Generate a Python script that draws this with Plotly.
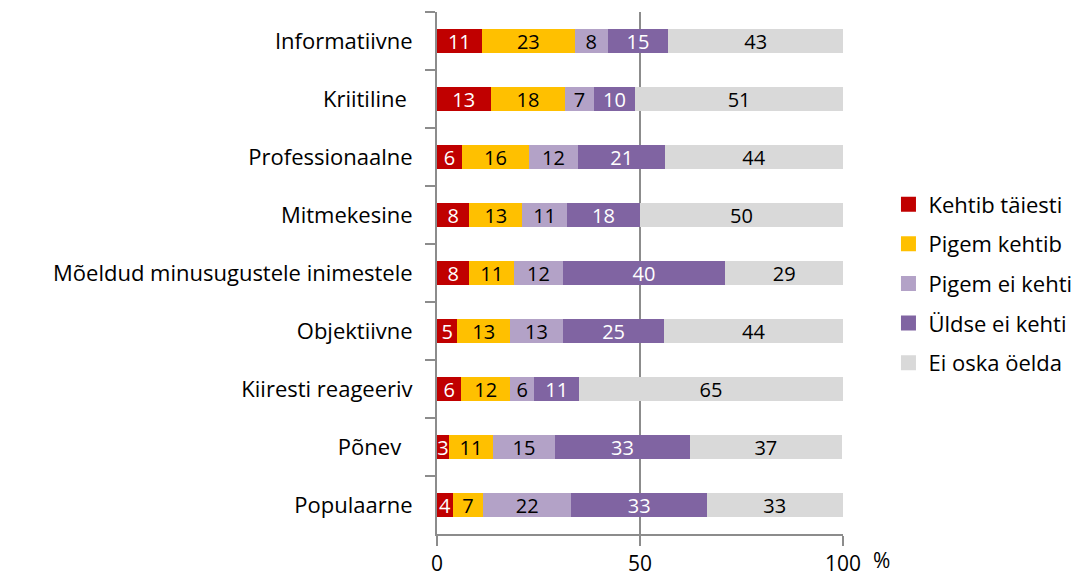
import plotly.graph_objects as go

# ------------------------------------------
# Data (segment lengths in %, labels show them rounded)
# ------------------------------------------

categories = [
    "Informatiivne",
    "Kriitiline\u00a0",
    "Professionaalne",
    "Mitmekesine",
    "Mõeldud minusugustele inimestele",
    "Objektiivne",
    "Kiiresti reageeriv",
    "Põnev\u00a0\u00a0",
    "Populaarne",
]

kehtib_taiesti = [11, 13.2, 6.2, 8, 8, 5, 6, 3.0, 3.9]
pigem_kehtib = [23, 18.4, 16.4, 13, 11, 13, 12, 10.7, 7.4]
pigem_ei_kehti = [8, 7.0, 12.2, 11, 12, 13, 6, 15.4, 21.8]
uldse_ei_kehti = [15, 10.2, 21.4, 18, 40, 25, 11, 33.2, 33.4]
ei_oska_oelda = [43, 51.2, 43.8, 50, 29, 44, 65, 37.4, 33.4]

series = [
    ("Kehtib täiesti", kehtib_taiesti, "#C00000", "white"),
    ("Pigem kehtib", pigem_kehtib, "#FFC000", "black"),
    ("Pigem ei kehti", pigem_ei_kehti, "#B3A2C7", "black"),
    ("Üldse ei kehti", uldse_ei_kehti, "#8064A2", "white"),
    ("Ei oska öelda", ei_oska_oelda, "#D9D9D9", "black"),
]

FONT = "Open Sans"

# the page body has an 8px margin, so the figure is drawn from (8, 8)
OFF = 8
W, H = 1090 - OFF, 575 - OFF
# plot area in window pixels
LEFT, RIGHT, TOP, BOTTOM = 437, 843, 12, 534

# ------------------------------------------
# Stacked bar chart
# ------------------------------------------

fig = go.Figure()

for name, values, color, text_color in series:
    fig.add_trace(
        go.Bar(
            name=name,
            x=values,
            y=categories,
            orientation="h",
            marker=dict(color=color, line=dict(width=0)),
            texttemplate="%{x:.0f}",
            textposition="inside",
            insidetextanchor="middle",
            textangle=0,
            textfont=dict(color=text_color, size=20, family=FONT),
            legendgroup=name,
            showlegend=False,
            hoverinfo="skip",
        )
    )

# square legend keys
for name, values, color, text_color in series:
    fig.add_trace(
        go.Scatter(
            name=name,
            x=[None],
            y=[None],
            mode="markers",
            marker=dict(symbol="square", size=15, color=color),
            legendgroup=name,
            showlegend=True,
        )
    )

fig.add_annotation(
    x=(892 - LEFT) / (RIGHT - LEFT),
    y=-(560 - BOTTOM) / (BOTTOM - TOP),
    xref="paper", yref="paper",
    yanchor="middle",
    text="%", showarrow=False,
    font=dict(size=21, family=FONT, color="black"),
)

fig.update_layout(
    width=W,
    height=H,
    barmode="stack",
    bargap=0.6,
    plot_bgcolor="white",
    paper_bgcolor="white",
    margin=dict(l=LEFT - OFF, r=1090 - RIGHT, t=TOP - OFF, b=575 - BOTTOM),
    font=dict(family=FONT, size=20, color="black"),
    uniformtext=dict(minsize=20, mode="show"),
    xaxis=dict(
        range=[0, 100],
        dtick=50,
        showgrid=True,
        gridcolor="#8C8C8C",
        gridwidth=2,
        zeroline=False,
        showline=True,
        linecolor="#8C8C8C",
        linewidth=2,
        ticks="outside",
        ticklen=10,
        tickcolor="#8C8C8C",
        tickwidth=2,
        tickfont=dict(size=21, family=FONT),
        automargin=False,
        fixedrange=True,
    ),
    yaxis=dict(
        autorange="reversed",
        showline=True,
        linecolor="#8C8C8C",
        linewidth=2,
        ticks="outside",
        tickson="boundaries",
        ticklen=10,
        tickcolor="#8C8C8C",
        tickwidth=2,
        ticklabelstandoff=18,
        tickfont=dict(size=22, family=FONT),
        automargin=False,
        fixedrange=True,
    ),
    legend=dict(
        x=1.112,
        y=0.48,
        xanchor="left",
        yanchor="middle",
        traceorder="grouped",
        tracegroupgap=8,
        font=dict(size=22, family=FONT),
        itemwidth=30,
    ),
    showlegend=True,
)

fig.write_html("out.html")
